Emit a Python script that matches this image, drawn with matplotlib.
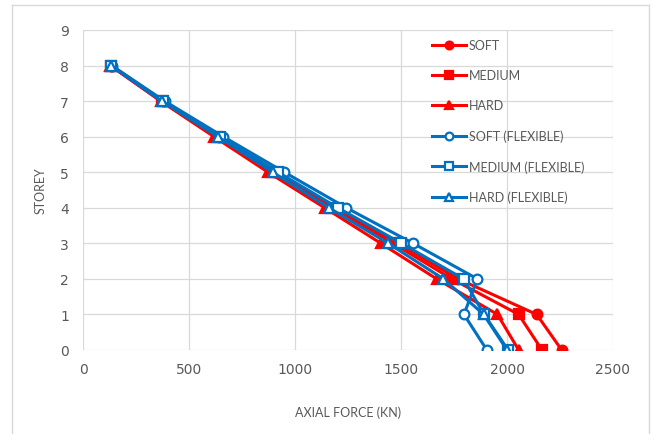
import matplotlib
matplotlib.use("Agg")
import matplotlib.pyplot as plt
from matplotlib.lines import Line2D

plt.rcParams['font.family'] = ['Lato', 'DejaVu Sans']

storey = [8, 7, 6, 5, 4, 3, 2, 1, 0]

soft = [132, 378, 640, 905, 1188, 1482, 1770, 2140, 2258]
medium = [130, 372, 630, 893, 1172, 1462, 1740, 2055, 2165]
hard = [128, 366, 618, 873, 1140, 1405, 1668, 1955, 2055]
soft_flex = [135, 385, 662, 950, 1242, 1557, 1860, 1797, 1905]
medium_flex = [133, 378, 648, 920, 1202, 1502, 1795, 1892, 2005]
hard_flex = [131, 372, 636, 895, 1160, 1440, 1700, 1890, 2000]

x_ticks = [0, 500, 1000, 1500, 2000, 2500]
y_ticks = list(range(0, 10))

RED = '#FF0000'
BLUE = '#0070C0'
TXT = '#595959'

fig = plt.figure(figsize=(6.6, 4.35), dpi=100)
ax = fig.add_axes([83 / 660, 1 - 351 / 435, 530 / 660, 320 / 435])

series = [
    (soft, 'SOFT', RED, 'o', RED),
    (medium, 'MEDIUM', RED, 's', RED),
    (hard, 'HARD', RED, '^', RED),
    (soft_flex, 'SOFT (FLEXIBLE)', BLUE, 'o', 'white'),
    (medium_flex, 'MEDIUM (FLEXIBLE)', BLUE, 's', 'white'),
    (hard_flex, 'HARD (FLEXIBLE)', BLUE, '^', 'white'),
]
for vals, label, col, mk, face in series:
    ax.plot(vals, storey, color=col, lw=2.2, marker=mk, markersize=7,
            markerfacecolor=face, markeredgecolor=col, markeredgewidth=1.6,
            label=label, zorder=3)

ax.set_xlim(0, 2500)
ax.set_ylim(0, 9)
ax.set_xticks(x_ticks)
ax.set_yticks(y_ticks)
ax.grid(True, color='#D9D9D9', lw=0.9, zorder=0)
for s in ax.spines.values():
    s.set_visible(False)
ax.tick_params(length=0, labelcolor=TXT, pad=9)
ax.tick_params(axis='y', pad=10)
for lab in ax.get_xticklabels() + ax.get_yticklabels():
    lab.set_fontfamily('DejaVu Sans')
    lab.set_fontsize(10)

ax.set_xlabel('AXIAL FORCE (KN)', fontsize=9, color=TXT, labelpad=21)
ax.set_ylabel('STOREY', fontsize=9, color=TXT, labelpad=10)

leg = ax.legend(loc='upper left', bbox_to_anchor=((427 - 83) / 530, 1 - (35 - 31) / 320),
                frameon=False, fontsize=9, labelcolor=TXT, labelspacing=1.45,
                handlelength=2.7, handletextpad=0.25, borderaxespad=0,
                markerscale=0.8)

# chart-area border
bc = '#D9D9D9'
fig.add_artist(Line2D([12 / 660, 12 / 660], [0, 1 - 6 / 435], transform=fig.transFigure, color=bc, lw=1))
fig.add_artist(Line2D([649 / 660, 649 / 660], [0, 1 - 6 / 435], transform=fig.transFigure, color=bc, lw=1))
fig.add_artist(Line2D([12 / 660, 649 / 660], [1 - 6 / 435, 1 - 6 / 435], transform=fig.transFigure, color=bc, lw=1))

fig.savefig('out.png', dpi=100)
